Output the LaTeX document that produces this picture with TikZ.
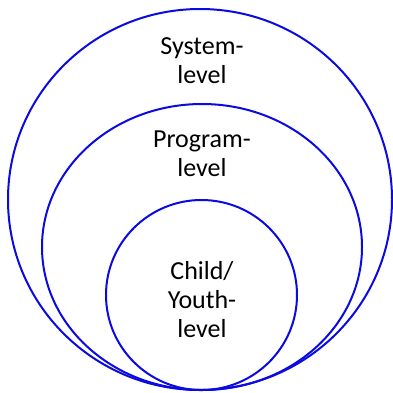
\documentclass[tikz,border=0pt]{standalone}
\usepackage{fontspec}
\setmainfont{Carlito}
\usepackage{tikz}

\definecolor{ringblue}{RGB}{10,10,225}

\begin{document}
\begin{tikzpicture}[x=1pt, y=-1pt, ring/.style = {draw=ringblue, line width=2pt}, level/.style = {align=center, font=\fontsize{26}{29}\selectfont}]
    \useasboundingbox (0,0) rectangle (393,392);
    \draw[ring] (200,199.5) ellipse (192 and 190.5);
    \draw[ring] (202,247) ellipse (160 and 143);
    \draw[ring] (201.5,295) ellipse (95.5 and 95);
    \node[level] (system) at (202,61) {System-\\level};
    \node[level] (program) at (202,154) {Program-\\level};
    \node[level] (child) at (202,300) {Child/\\Youth-\\level};
\end{tikzpicture}
\end{document}
